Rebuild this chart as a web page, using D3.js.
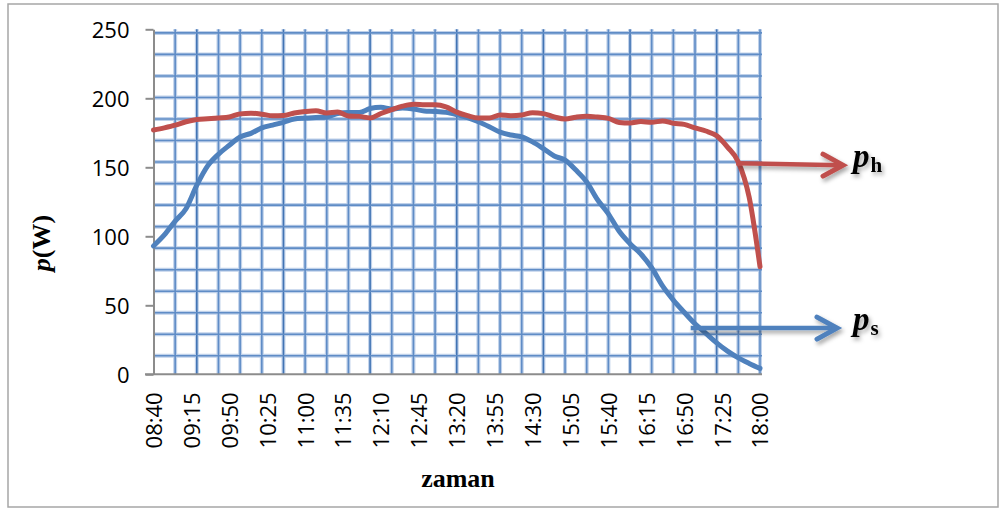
<!DOCTYPE html>
<html lang="tr">
<head>
	<meta charset="UTF-8">
	<title>p(W) - zaman</title>
	<script src="https://d3js.org/d3.v7.min.js"></script>
	<style>
		body{
			margin: 0;
			background-color: #ffffff;
		}
		.tick text{
			font-family: "Open Sans", Arial, sans-serif;
			font-size: 22px;
			fill: #000;
		}
		.axis path, .axis line{
			stroke: #8c8c8c;
			stroke-width: 2;
		}
		.serif{
			font-family: "Liberation Serif", "Times New Roman", serif;
			font-weight: bold;
		}
	</style>
</head>
<body>
<script type="text/javascript">
	// 10 dakikalık okumalar
	var times = [
		"08:40","08:50","09:00","09:10","09:20","09:30","09:40","09:50","10:00","10:10",
		"10:20","10:30","10:40","10:50","11:00","11:10","11:20","11:30","11:40","11:50",
		"12:00","12:10","12:20","12:30","12:40","12:50","13:00","13:10","13:20","13:30",
		"13:40","13:50","14:00","14:10","14:20","14:30","14:40","14:50","15:00","15:10",
		"15:20","15:30","15:40","15:50","16:00","16:10","16:20","16:30","16:40","16:50",
		"17:00","17:10","17:20","17:30","17:40","17:50","18:00"
	];
	var psValues = [
		93, 101, 111, 120, 137, 151, 159.5, 166, 172, 174.6,
		178.6, 180.6, 182.6, 185, 185.6, 186.1, 186.5, 189, 189.7, 189.7,
		192.6, 193.5, 192.3, 193, 192.3, 190.8, 190.5, 189.8, 188.1, 186,
		183, 179.4, 175.5, 173.4, 172, 168.4, 163.5, 158.2, 155.2, 148,
		139.4, 126.5, 116.3, 103.6, 94.6, 87.2, 77.2, 64.1, 53.8, 45,
		36.6, 29.7, 22.8, 16.8, 11.9, 7.9, 4.3
	];
	var phValues = [
		177, 178.6, 180.5, 183, 184.6, 185.2, 185.8, 186.5, 188.7, 189.2,
		188.5, 187.3, 187.5, 189.3, 190.4, 191, 189.4, 190, 187.2, 186.9,
		185.8, 189, 191.8, 194.3, 195.7, 195.4, 195.3, 193.8, 190, 187.4,
		185.7, 185.7, 187.9, 187.4, 187.9, 189.5, 188.9, 186.5, 185, 186.3,
		187, 186.4, 185.4, 182.5, 182.1, 183.1, 182.6, 183.6, 181.9, 181.1,
		178.5, 176.3, 172.8, 164.6, 153.9, 128.3, 78
	];
	var xTickLabels = [
		"08:40","09:15","09:50","10:25","11:00","11:35","12:10","12:45","13:20",
		"13:55","14:30","15:05","15:40","16:15","16:50","17:25","18:00"
	];
	var yTickValues = [0, 50, 100, 150, 200, 250];
	// ok işaretleri: seri, başlangıç zamanı, değer
	var arrowSeries = ["h", "s"];
	var arrowTimes = ["17:38", "16:56"];
	var arrowValues = [153, 33.5];

	var colors = {s: "#4f81bd", h: "#c0504d"};

	function toMin(s){
		var p = s.split(":");
		return +p[0] * 60 + +p[1];
	}

	var W = 1000, H = 510;
	var svg = d3.select("body").append("svg")
		.attr("width", W)
		.attr("height", H);

	var defs = svg.append("defs");
	var f = defs.append("filter").attr("id", "shadow")
		.attr("x", "-20%").attr("y", "-50%").attr("width", "140%").attr("height", "200%");
	f.append("feDropShadow")
		.attr("dx", 2).attr("dy", 3).attr("stdDeviation", 2)
		.attr("flood-color", "#000").attr("flood-opacity", 0.35);

	// çerçeve
	svg.append("rect")
		.attr("x", 8).attr("y", 4)
		.attr("width", 990).attr("height", 503)
		.attr("fill", "none")
		.attr("stroke", "#a6a6a6")
		.attr("stroke-width", 1.5);

	var x = d3.scaleLinear()
		.domain([toMin(times[0]), toMin(times[times.length - 1])])
		.range([153.5, 760]);
	var y = d3.scaleLinear()
		.domain([0, 250])
		.range([374.3, 29.3]);

	//----Izgara----//
	var grid = svg.append("g");
	var vGrid = d3.range(1, 29).map(function (k) { return toMin(times[0]) + k * 20; });
	var hGrid = d3.range(16).map(function (k) { return 13.4 + k * 15.6; });

	function drawGrid(stroke, width, darkCore){
		grid.selectAll(null).data(vGrid).enter().append("line")
			.attr("x1", function (d) { return x(d); })
			.attr("x2", function (d) { return x(d); })
			.attr("y1", y(250)).attr("y2", y(0))
			.attr("stroke", function (d, i) { return darkCore && (i % 4 === 1) ? "#4274b4" : stroke; })
			.attr("stroke-width", width);
		grid.selectAll(null).data(hGrid).enter().append("line")
			.attr("x1", x.range()[0]).attr("x2", 762)
			.attr("y1", function (d) { return y(d); })
			.attr("y2", function (d) { return y(d); })
			.attr("stroke", stroke)
			.attr("stroke-width", width);
	}
	drawGrid("#bfd1ea", 4, false);
	drawGrid("#5f8cc6", 1.6, true);

	//----Achsen----//
	svg.append("g")
		.attr("class", "axis axis--y")
		.attr("transform", "translate(" + x.range()[0] + ",0)")
		.call(d3.axisLeft(y).tickValues(yTickValues).tickSize(8).tickSizeOuter(0).tickPadding(16))
		.call(function (g) { g.selectAll(".tick text").attr("dy", "0.36em"); });

	var xAxis = svg.append("g")
		.attr("class", "axis axis--x")
		.attr("transform", "translate(0," + y(0) + ")")
		.call(d3.axisBottom(x)
			.tickValues(xTickLabels.map(toMin))
			.tickFormat(function (d, i) { return xTickLabels[i]; })
			.tickSize(0).tickSizeOuter(0));
	xAxis.select(".domain").remove();
	xAxis.append("line")
		.attr("x1", 145).attr("x2", 762)
		.attr("y1", 0).attr("y2", 0)
		.attr("stroke", "#8c8c8c").attr("stroke-width", 2);
	xAxis.selectAll(".tick text")
		.attr("transform", "rotate(-90)")
		.attr("text-anchor", "end")
		.attr("x", -18)
		.attr("y", 0)
		.attr("dy", "0.36em");

	//----Linien----//
	var line = d3.line()
		.x(function (d, i) { return x(toMin(times[i])); })
		.y(function (d) { return y(d); })
		.curve(d3.curveMonotoneX);

	svg.append("path")
		.datum(psValues)
		.attr("fill", "none")
		.attr("stroke", colors.s)
		.attr("stroke-width", 5)
		.attr("stroke-linejoin", "round")
		.attr("stroke-linecap", "round")
		.attr("d", line);
	svg.append("path")
		.datum(phValues)
		.attr("fill", "none")
		.attr("stroke", colors.h)
		.attr("stroke-width", 5)
		.attr("stroke-linejoin", "round")
		.attr("stroke-linecap", "round")
		.attr("d", line);

	//----Pfeile----//
	var arrowEnd = {h: 843, s: 837};
	arrowSeries.forEach(function (s, i) {
		var x0 = x(toMin(arrowTimes[i])), y0 = y(arrowValues[i]);
		var x1 = arrowEnd[s], y1 = y0 + (s === "h" ? 2 : 0);
		var g = svg.append("g").attr("filter", "url(#shadow)");
		g.append("line")
			.attr("x1", x0).attr("y1", y0)
			.attr("x2", x1 - 2).attr("y2", y1)
			.attr("stroke", colors[s]).attr("stroke-width", 4.5);
		g.append("path")
			.attr("d", "M" + (x1 - 20) + "," + (y1 - 11) + "L" + x1 + "," + y1 + "L" + (x1 - 20) + "," + (y1 + 11))
			.attr("fill", "none")
			.attr("stroke", colors[s]).attr("stroke-width", 5)
			.attr("stroke-linecap", "round")
			.attr("stroke-linejoin", "miter");

		var t = svg.append("text")
			.attr("class", "serif")
			.attr("x", 853)
			.attr("y", y1 + 2)
			.attr("filter", "url(#shadow)");
		t.append("tspan")
			.attr("font-style", "italic")
			.attr("font-size", 33)
			.text("p");
		t.append("tspan")
			.attr("font-size", 21)
			.attr("dx", 1)
			.attr("dy", 5)
			.text(s);
	});

	//----Beschriftung----//
	var yTitle = svg.append("text")
		.attr("class", "serif")
		.attr("font-size", 26)
		.attr("text-anchor", "middle")
		.attr("transform", "translate(50,243) rotate(-90)");
	yTitle.append("tspan").attr("font-style", "italic").text("p");
	yTitle.append("tspan").text("(W)");

	svg.append("text")
		.attr("class", "serif")
		.attr("font-size", 26)
		.attr("text-anchor", "middle")
		.attr("x", 458)
		.attr("y", 487)
		.text("zaman");
</script>
</body>
</html>
